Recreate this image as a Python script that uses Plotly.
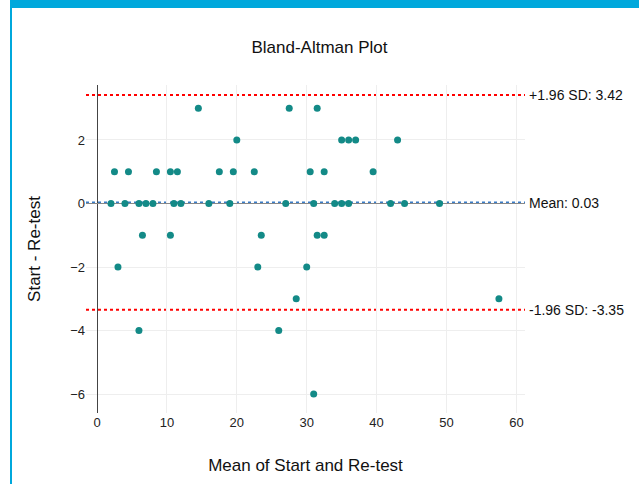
import plotly.graph_objects as go

mean_vals = [14.5, 27.5, 31.5,
             20, 35, 36, 37, 43,
             2.5, 4.5, 8.5, 10.5, 11.5, 17.5, 19.5, 22.5, 30.5, 32.5, 39.5,
             2, 4, 6, 7, 8, 11, 12, 16, 19, 27, 31, 34, 35, 36, 42, 44, 49,
             6.5, 10.5, 23.5, 31.5, 32.5,
             3, 23, 30,
             28.5, 57.5,
             6, 26,
             31]
diff_vals = [3, 3, 3,
             2, 2, 2, 2, 2,
             1, 1, 1, 1, 1, 1, 1, 1, 1, 1, 1,
             0, 0, 0, 0, 0, 0, 0, 0, 0, 0, 0, 0, 0, 0, 0, 0, 0,
             -1, -1, -1, -1, -1,
             -2, -2, -2,
             -3, -3,
             -4, -4,
             -6]

mean_diff = 0.03
upper_loa = 3.42
lower_loa = -3.35

x_ticks = [0, 10, 20, 30, 40, 50, 60]
y_ticks = [-6, -4, -2, 0, 2]

FONT = "Liberation Sans, Arial, sans-serif"

fig = go.Figure()
fig.add_trace(go.Scatter(
    x=mean_vals, y=diff_vals, mode="markers",
    marker=dict(color="#138a87", size=7),
    showlegend=False,
))

# Reference lines spanning the full plot width
fig.add_shape(type="line", xref="paper", yref="y", x0=0, x1=1,
              y0=mean_diff, y1=mean_diff, layer="between",
              line=dict(color="#3a7cc6", width=2, dash="dot"))
fig.add_shape(type="line", xref="paper", yref="y", x0=0, x1=1,
              y0=upper_loa, y1=upper_loa, layer="between",
              line=dict(color="red", width=2, dash="dot"))
fig.add_shape(type="line", xref="paper", yref="y", x0=0, x1=1,
              y0=lower_loa, y1=lower_loa, layer="between",
              line=dict(color="red", width=2, dash="dot"))

for yv, txt in [(upper_loa, f"+1.96 SD: {upper_loa:.2f}"),
                (mean_diff, f"Mean: {mean_diff:.2f}"),
                (lower_loa, f"-1.96 SD: {lower_loa:.2f}")]:
    fig.add_annotation(x=1, xref="paper", y=yv, yref="y", text=txt,
                       showarrow=False, xanchor="left", yanchor="middle",
                       xshift=2, font=dict(family=FONT, size=14, color="#111"))

# Decorative frame (blue band on top, thin line at left)
ML, MR, MT, MB = 86, 114, 85, 71
W, H = 639, 484
pw, ph = W - ML - MR, H - MT - MB
def px2x(px):
    return (px - ML) / pw
def py2y(py):
    return (H - MB - py) / ph
fig.add_shape(type="rect", xref="paper", yref="paper",
              x0=px2x(10), x1=px2x(660), y0=py2y(8), y1=py2y(-20),
              fillcolor="#00a8dc", line=dict(width=0), layer="above")
fig.add_shape(type="rect", xref="paper", yref="paper",
              x0=px2x(10), x1=px2x(12), y0=py2y(500), y1=py2y(8),
              fillcolor="#00a8dc", line=dict(width=0), layer="above")

fig.update_layout(
    width=W, height=H,
    margin=dict(l=ML, r=MR, t=MT, b=MB, pad=0),
    paper_bgcolor="white", plot_bgcolor="white",
    font=dict(family=FONT, size=13, color="#222"),
    title=dict(text="Bland-Altman Plot", x=0.5, xanchor="center",
               y=1 - 47 / H, yanchor="middle",
               font=dict(family=FONT, size=17, color="#111")),
    showlegend=False,
)
fig.update_xaxes(
    range=[-1.574, 61.23], tickvals=x_ticks,
    showgrid=True, gridcolor="#eeeeee", gridwidth=1,
    zeroline=True, zerolinecolor="#444", zerolinewidth=1,
    showline=False, ticks="", tickfont=dict(size=13, color="#222"),
    title=dict(text="Mean of Start and Re-test", standoff=30,
               font=dict(size=17, color="#111")),
)
fig.update_yaxes(
    range=[-6.598, 3.732], tickvals=y_ticks,
    showgrid=True, gridcolor="#eeeeee", gridwidth=1,
    zeroline=True, zerolinecolor="#888", zerolinewidth=1,
    showline=False, ticks="", tickfont=dict(size=13, color="#222"),
    title=dict(text="Start - Re-test", standoff=25,
               font=dict(size=17, color="#111")),
)

fig.write_html("out.html",
               config={"displayModeBar": False},
               post_script="document.body.style.margin='0';"
                           "document.body.style.overflow='hidden';")
